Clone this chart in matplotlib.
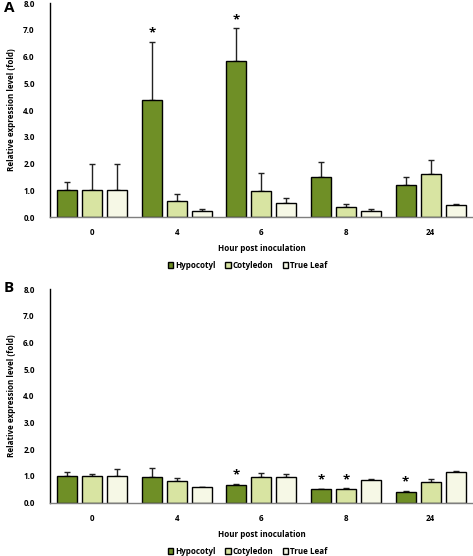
import numpy as np
from matplotlib import pyplot as plt

hours = ["0", "4", "6", "8", "24"]
tissues = ["Hypocotyl", "Cotyledon", "True Leaf"]
colors = ["#6f8f26", "#d8e4a2", "#f6f8e6"]

# panel A: means and upper error bar lengths
a_mean = {
    "Hypocotyl": [1.0, 4.37, 5.85, 1.5, 1.21],
    "Cotyledon": [1.0, 0.6, 0.96, 0.38, 1.59],
    "True Leaf": [1.0, 0.21, 0.52, 0.23, 0.44],
}
a_err = {
    "Hypocotyl": [0.3, 2.18, 1.2, 0.55, 0.28],
    "Cotyledon": [1.0, 0.26, 0.7, 0.09, 0.55],
    "True Leaf": [1.0, 0.1, 0.18, 0.06, 0.03],
}
a_star = {"Hypocotyl": [1, 2]}

# panel B
b_mean = {
    "Hypocotyl": [1.0, 0.97, 0.64, 0.49, 0.4],
    "Cotyledon": [1.0, 0.82, 0.94, 0.51, 0.78],
    "True Leaf": [1.0, 0.59, 0.94, 0.86, 1.13],
}
b_err = {
    "Hypocotyl": [0.15, 0.31, 0.07, 0.03, 0.04],
    "Cotyledon": [0.07, 0.08, 0.17, 0.03, 0.11],
    "True Leaf": [0.27, 0.0, 0.12, 0.03, 0.06],
}
b_star = {"Hypocotyl": [2, 3, 4], "Cotyledon": [3]}

plt.rcParams['font.family'] = ['Open Sans', 'DejaVu Sans']
plt.rcParams['font.weight'] = 'bold'

fig = plt.figure(figsize=(4.73, 5.56), dpi=100)
ax_a = fig.add_axes([0.1057, 0.6097, 0.894, 0.3849])
ax_b = fig.add_axes([0.1057, 0.0962, 0.894, 0.384])

x = np.arange(len(hours))
width = 0.236
step = 0.295


def draw(ax, means, errs, stars, legend_y):
    for i, t in enumerate(tissues):
        pos = x + (i - 1) * step
        m = np.array(means[t])
        e = np.array(errs[t])
        ax.bar(pos, m, width, color=colors[i], edgecolor="black",
               linewidth=1.0, label=t, zorder=2)
        ax.errorbar(pos, m, yerr=[np.zeros_like(e), e], fmt="none",
                    ecolor="#222222", elinewidth=1.0, capsize=2.2,
                    capthick=1.0, zorder=1)
        for k in stars.get(t, []):
            ax.text(pos[k], m[k] + e[k] + 0.08, "*", ha="center",
                    va="bottom", fontsize=9.5, fontweight="bold")
    ax.set_xlim(-0.5, 4.5)
    ax.set_ylim(0, 8)
    ax.set_yticks(np.arange(0, 9, 1))
    ax.set_yticklabels([f"{v:.1f}" for v in range(9)], fontsize=5.8)
    ax.set_xticks(x)
    ax.set_xticklabels(hours, fontsize=5.8)
    ax.tick_params(axis="both", length=0, pad=8)
    ax.tick_params(axis="y", pad=11)
    ax.spines["top"].set_visible(False)
    ax.spines["right"].set_visible(False)
    ax.spines["left"].set_linewidth(1.0)
    ax.spines["bottom"].set_color("#7f7f7f")
    ax.spines["bottom"].set_linewidth(1.0)
    ax.set_ylabel("Relative expression level (fold)", fontsize=5.8,
                  fontweight="bold", labelpad=5)
    ax.set_xlabel("Hour post inoculation", fontsize=5.8,
                  fontweight="bold", labelpad=5)
    ax.legend(loc="center", bbox_to_anchor=(0.467, legend_y), ncol=3,
              frameon=False, fontsize=5.8, handlelength=0.7,
              handleheight=0.7, handletextpad=0.2, columnspacing=1.2)


draw(ax_a, a_mean, a_err, a_star, -0.225)
draw(ax_b, b_mean, b_err, b_star, -0.23)

fig.text(0.008, 0.985, "A", fontsize=11, fontweight="bold", va="center")
fig.text(0.008, 0.482, "B", fontsize=11, fontweight="bold", va="center")

fig.savefig("out.png", dpi=100)
